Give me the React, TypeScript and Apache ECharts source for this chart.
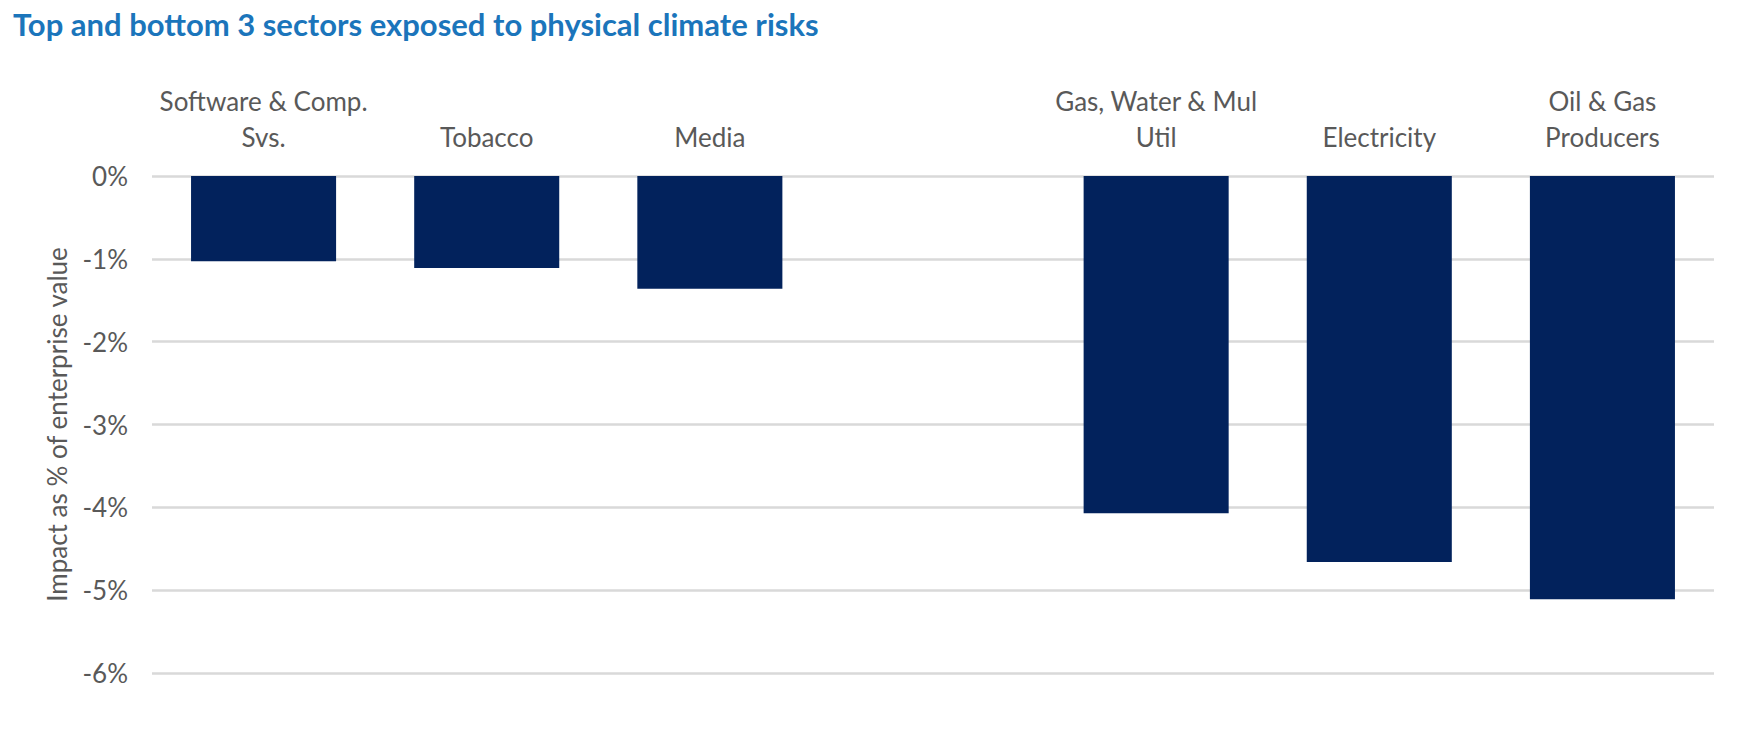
import React, { useEffect, useRef } from "react";
import * as echarts from "echarts";

const TITLE = "Top and bottom 3 sectors exposed to physical climate risks";
const Y_AXIS_NAME = "Impact as % of enterprise value";
const categories = [
  "Software & Comp.\nSvs.",
  "Tobacco",
  "Media",
  "",
  "Gas, Water & Mul\nUtil",
  "Electricity",
  "Oil & Gas\nProducers",
];
const values: (number | null)[] = [-1.03, -1.11, -1.36, null, -4.07, -4.66, -5.11];
const yMin = -6;
const yMax = 0;
const yInterval = 1;

const FONT = "Lato, 'Open Sans', sans-serif";

export default function App() {
  const ref = useRef<HTMLDivElement>(null);
  useEffect(() => {
    if (!ref.current) return;
    const chart = echarts.init(ref.current, undefined, { renderer: "svg" });
    chart.setOption({
      animation: false,
      backgroundColor: "#ffffff",
      title: {
        text: TITLE,
        left: 8,
        top: 3,
        textStyle: {
          color: "#1B75BB",
          fontSize: 31,
          fontWeight: "bold",
          fontFamily: FONT,
        },
      },
      grid: { left: 152, right: 46, top: 176, bottom: 63 },
      xAxis: {
        type: "category",
        position: "top",
        data: categories,
        axisLine: { show: false },
        axisTick: { show: false },
        axisLabel: {
          interval: 0,
          color: "#595959",
          fontSize: 26,
          fontFamily: FONT,
          lineHeight: 36,
          margin: 21,
        },
      },
      yAxis: {
        type: "value",
        min: yMin,
        max: yMax,
        interval: yInterval,
        name: Y_AXIS_NAME,
        nameLocation: "middle",
        nameGap: 82,
        nameRotate: 90,
        nameTextStyle: { color: "#595959", fontSize: 26, fontFamily: FONT },
        axisLine: { show: false },
        axisTick: { show: false },
        axisLabel: {
          color: "#595959",
          fontSize: 26,
          fontFamily: FONT,
          margin: 24,
          formatter: (v: number) => `${v}%`,
        },
        splitLine: { lineStyle: { color: "#D9D9D9", width: 2.5 } },
      },
      series: [
        {
          type: "bar",
          data: values,
          barWidth: "65%",
          itemStyle: { color: "#02225C" },
        },
      ],
    });
    return () => chart.dispose();
  }, []);
  return (
    <div
      ref={ref}
      style={{ position: "absolute", left: 0, top: 0, width: 1760, height: 736 }}
    />
  );
}
